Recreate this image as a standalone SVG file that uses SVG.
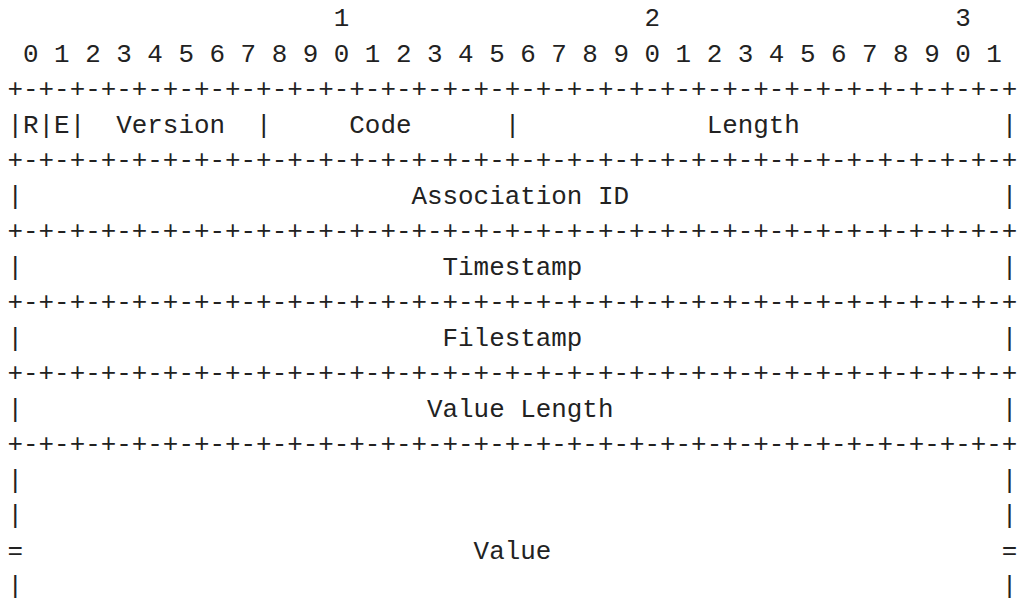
<svg xmlns="http://www.w3.org/2000/svg" width="1019" height="598" viewBox="0 0 1019 598">
<style>
text { font-family: "Liberation Mono", "DejaVu Sans Mono", monospace; font-size: 25.9px; fill: #222; white-space: pre; }
</style>
<rect width="1019" height="598" fill="#fff"/>
<g id="ruler">
<text x="7.5" y="26.2" xml:space="preserve">                     1                   2                   3</text>
<text x="7.5" y="61.7" xml:space="preserve"> 0 1 2 3 4 5 6 7 8 9 0 1 2 3 4 5 6 7 8 9 0 1 2 3 4 5 6 7 8 9 0 1</text>
</g>
<g id="connectors">
<text x="7.5" y="97.2">+-+-+-+-+-+-+-+-+-+-+-+-+-+-+-+-+-+-+-+-+-+-+-+-+-+-+-+-+-+-+-+-+</text>
<text x="7.5" y="168.2">+-+-+-+-+-+-+-+-+-+-+-+-+-+-+-+-+-+-+-+-+-+-+-+-+-+-+-+-+-+-+-+-+</text>
<text x="7.5" y="239.2">+-+-+-+-+-+-+-+-+-+-+-+-+-+-+-+-+-+-+-+-+-+-+-+-+-+-+-+-+-+-+-+-+</text>
<text x="7.5" y="310.2">+-+-+-+-+-+-+-+-+-+-+-+-+-+-+-+-+-+-+-+-+-+-+-+-+-+-+-+-+-+-+-+-+</text>
<text x="7.5" y="381.2">+-+-+-+-+-+-+-+-+-+-+-+-+-+-+-+-+-+-+-+-+-+-+-+-+-+-+-+-+-+-+-+-+</text>
<text x="7.5" y="452.2">+-+-+-+-+-+-+-+-+-+-+-+-+-+-+-+-+-+-+-+-+-+-+-+-+-+-+-+-+-+-+-+-+</text>
</g>
<g id="header-row">
<text x="7.5" y="132.7" xml:space="preserve">|R|E|  Version  |     Code      |            Length             |</text>
</g>
<g id="association-id">
<text x="7.5" y="203.7" xml:space="preserve">|                         Association ID                        |</text>
</g>
<g id="timestamp">
<text x="7.5" y="274.7" xml:space="preserve">|                           Timestamp                           |</text>
</g>
<g id="filestamp">
<text x="7.5" y="345.7" xml:space="preserve">|                           Filestamp                           |</text>
</g>
<g id="value-length">
<text x="7.5" y="416.7" xml:space="preserve">|                          Value Length                         |</text>
</g>
<g id="value">
<text x="7.5" y="487.7" xml:space="preserve">|                                                               |</text>
<text x="7.5" y="523.2" xml:space="preserve">|                                                               |</text>
<text x="7.5" y="558.7" xml:space="preserve">=                             Value                             =</text>
<text x="7.5" y="594.2" xml:space="preserve">|                                                               |</text>
</g>
</svg>
